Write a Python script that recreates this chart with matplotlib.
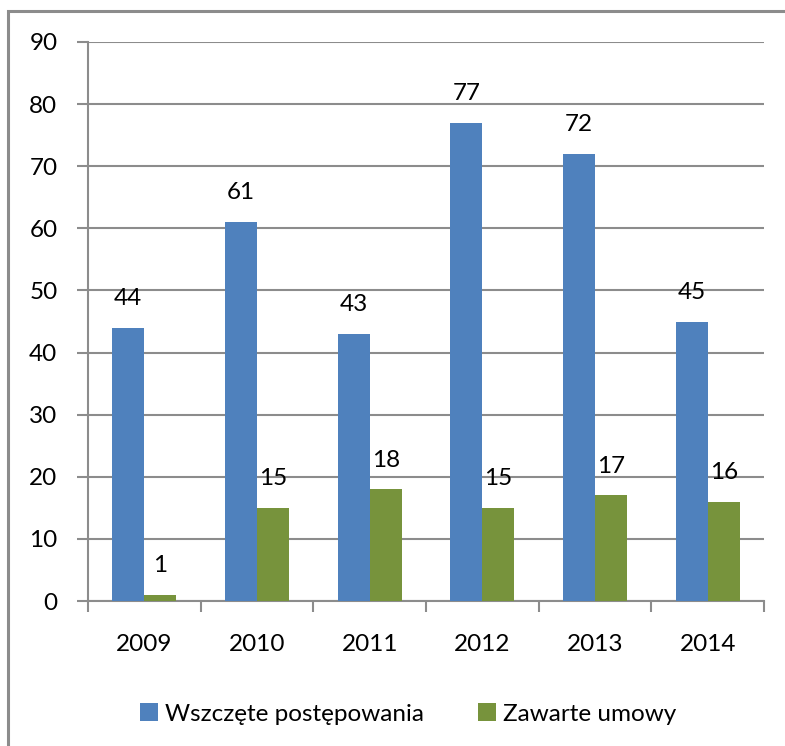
import matplotlib.pyplot as plt
import numpy as np
from matplotlib.patches import Rectangle

years = ["2009", "2010", "2011", "2012", "2013", "2014"]
wszczete = [44, 61, 43, 77, 72, 45]
zawarte = [1, 15, 18, 15, 17, 16]

blue = "#4F81BD"
green = "#77933C"
grid_c = "#8C8C8C"

plt.rcParams['font.family'] = ['Lato', 'DejaVu Sans']
fs = 17.5

fig = plt.figure(figsize=(7.85, 7.46), dpi=100)
W, H = 785, 746
ax = fig.add_axes([88 / W, 1 - 601 / H, (764 - 88) / W, (601 - 42) / H])

# outer chart border
fig.patches.append(Rectangle((8 / W, -0.01), 1.0, 1 - 11 / H + 0.01,
                             transform=fig.transFigure, fill=False,
                             edgecolor="#8C8C8C", linewidth=2.2))

x = np.arange(len(years))
bw = 0.285
b1 = ax.bar(x - bw / 2, wszczete, bw, color=blue, label="Wszczęte postępowania", zorder=3)
b2 = ax.bar(x + bw / 2, zawarte, bw, color=green, label="Zawarte umowy", zorder=3)

for bars in (b1, b2):
    for rect in bars:
        h = rect.get_height()
        ax.text(rect.get_x() + rect.get_width() / 2, h + 3.0, f"{h:.0f}",
                ha="center", va="bottom", fontsize=fs)

ax.set_xlim(-0.5, len(years) - 0.5)
ax.set_ylim(0, 90)
ax.set_yticks(range(0, 91, 10))
ax.set_xticks(x)
ax.set_xticklabels(years)
ax.set_xticks(np.arange(-0.5, len(years)), minor=True)
ax.tick_params(axis="x", which="major", length=0, pad=24, labelsize=fs)
ax.tick_params(axis="x", which="minor", length=8, width=1.5, color=grid_c, direction="out")
ax.tick_params(axis="y", length=8, width=1.5, color=grid_c, labelsize=fs, pad=14)

ax.yaxis.grid(True, color=grid_c, linewidth=1.5, zorder=0)
ax.set_axisbelow(True)
for s in ("top", "right"):
    ax.spines[s].set_visible(False)
for s in ("left", "bottom"):
    ax.spines[s].set_color(grid_c)
    ax.spines[s].set_linewidth(1.5)

fig.legend(handles=[b1, b2], loc="center", bbox_to_anchor=(408 / W, 1 - 714 / H),
           ncol=2, frameon=False, fontsize=fs, handlelength=0.75, handleheight=0.75,
           handletextpad=0.3, columnspacing=2.2)

fig.savefig("out.png", dpi=100)
